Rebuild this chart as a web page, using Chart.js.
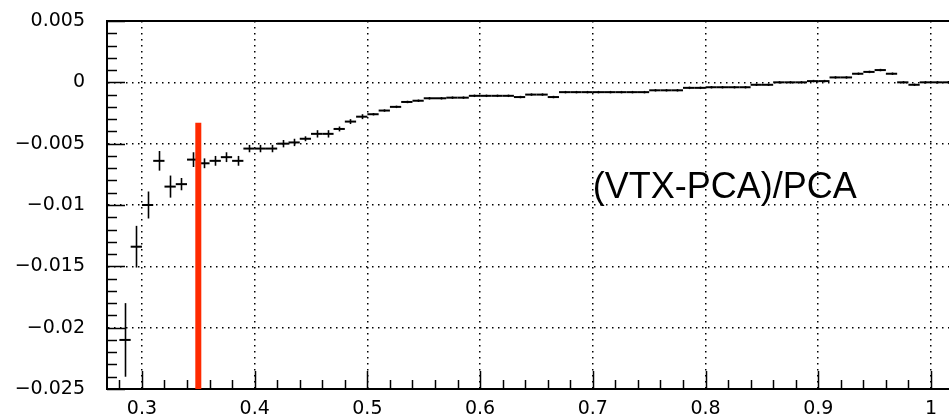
<!DOCTYPE html>
<html>
<head>
<meta charset="utf-8">
<script src="https://cdn.jsdelivr.net/npm/chart.js@4.4.1/dist/chart.umd.min.js"></script>
<style>
  html, body { margin: 0; padding: 0; background: #fff; }
</style>
</head>
<body>
<canvas id="chart" width="949" height="419"></canvas>
<script>
// bin centres (bin width 0.01)
const binCenters = [
  0.285, 0.295, 0.305, 0.315, 0.325, 0.335, 0.345, 0.355, 0.365, 0.375,
  0.385, 0.395, 0.405, 0.415, 0.425, 0.435, 0.445, 0.455, 0.465, 0.475,
  0.485, 0.495, 0.505, 0.515, 0.525, 0.535, 0.545, 0.555, 0.565, 0.575,
  0.585, 0.595, 0.605, 0.615, 0.625, 0.635, 0.645, 0.655, 0.665, 0.675,
  0.685, 0.695, 0.705, 0.715, 0.725, 0.735, 0.745, 0.755, 0.765, 0.775,
  0.785, 0.795, 0.805, 0.815, 0.825, 0.835, 0.845, 0.855, 0.865, 0.875,
  0.885, 0.895, 0.905, 0.915, 0.925, 0.935, 0.945, 0.955, 0.965, 0.975,
  0.985, 0.995, 1.005, 1.015
];
// (VTX-PCA)/PCA per bin
const residual = [
  -0.0210, -0.0134, -0.0100, -0.0064, -0.0085, -0.0083, -0.0063, -0.0066, -0.0064, -0.0061,
  -0.0064, -0.0054, -0.0054, -0.0054, -0.0050, -0.0049, -0.0046, -0.0042, -0.0042, -0.0038,
  -0.0032, -0.0028, -0.0026, -0.0023, -0.0020, -0.0016, -0.0015, -0.0013, -0.0013, -0.00125,
  -0.00125, -0.0011, -0.0011, -0.0011, -0.0011, -0.0012, -0.0010, -0.0010, -0.0012, -0.0008,
  -0.0008, -0.0008, -0.0008, -0.0008, -0.0008, -0.0008, -0.0008, -0.00065, -0.00065, -0.00065,
  -0.00045, -0.00045, -0.0004, -0.0004, -0.0004, -0.0004, -0.0002, -0.0002, 0.0000, 0.0000,
  0.0000, 0.0001, 0.0001, 0.0004, 0.0004, 0.0007, 0.00085, 0.0010, 0.0007, 0.0000,
  -0.0002, 0.0000, 0.0000, 0.0000
];
const residualErr = [
  0.0030, 0.0017, 0.0011, 0.0008, 0.0009, 0.0005, 0.0006, 0.0004, 0.0004, 0.0004,
  0.0004, 0.0003, 0.0003, 0.0003, 0.0003, 0.0003, 0.0002, 0.0003, 0.0003, 0.0002,
  0.0002, 0.0002, 0.0001, 0.0001, 0.0001, 0.0001, 0.0001, 0.0001, 0.0001, 0.0001,
  0.0001, 0.0001, 0.0001, 0.0001, 0.0001, 0.0001, 0.0001, 0.0001, 0.0001, 0.0001,
  0.0001, 0.0001, 0.0001, 0.0001, 0.0001, 0.0001, 0.0001, 0.0001, 0.0001, 0.0001,
  0.0001, 0.0001, 0.0001, 0.0001, 0.0001, 0.0001, 0.0001, 0.0001, 0.0001, 0.0001,
  0.0001, 0.0001, 0.0001, 0.0001, 0.0001, 0.0001, 0.0001, 0.0001, 0.0001, 0.0001,
  0.0001, 0.0001, 0.0001, 0.0001
];
const binHalf = 0.005;

const xLabelValues = [0.3, 0.4, 0.5, 0.6, 0.7, 0.8, 0.9, 1.0];
const xLabelTexts = ['0.3', '0.4', '0.5', '0.6', '0.7', '0.8', '0.9', '1'];
const yLabelValues = [0.005, 0, -0.005, -0.01, -0.015, -0.02, -0.025];
const yLabelTexts = ['0.005', '0', '\u22120.005', '\u22120.01', '\u22120.015', '\u22120.02', '\u22120.025'];

const cutValue = 0.35;       // red line
const cutTop = -0.0033;
const noteText = '(VTX-PCA)/PCA';

const near = (a, b) => Math.abs(a - b) < 1e-9;
const isMajor = (v, list) => list.some(m => near(m, v));

// minor ticks every 0.02 on x, 0.001 on y
const xTickValues = [];
for (let i = 28; i <= 100; i += 2) xTickValues.push(i / 100);
const yTickValues = [];
for (let i = -25; i <= 5; i++) yTickValues.push(i / 1000);

const points = binCenters.map((x, i) => ({ x: x, y: residual[i] }));

const noPad = s => { s.paddingTop = 0; s.paddingBottom = 0; s.paddingLeft = 0; s.paddingRight = 0; };

const histPlugin = {
  id: 'hist',
  afterDatasetsDraw(chart) {
    const { ctx, chartArea: a, scales: { x, y } } = chart;
    ctx.save();
    ctx.beginPath();
    ctx.rect(a.left, a.top, a.right - a.left, a.bottom - a.top);
    ctx.clip();
    ctx.strokeStyle = '#000';
    binCenters.forEach((c, i) => {
      const py = y.getPixelForValue(residual[i]);
      ctx.lineWidth = 2;
      ctx.beginPath();
      ctx.moveTo(x.getPixelForValue(c - binHalf), py);
      ctx.lineTo(x.getPixelForValue(c + binHalf), py);
      ctx.stroke();
      const px = Math.round(x.getPixelForValue(c)) + 0.5;
      ctx.lineWidth = 1.6;
      ctx.beginPath();
      ctx.moveTo(px, y.getPixelForValue(residual[i] - residualErr[i]));
      ctx.lineTo(px, y.getPixelForValue(residual[i] + residualErr[i]));
      ctx.stroke();
    });
    ctx.restore();
  },
  afterDraw(chart) {
    const { ctx, chartArea: a, scales: { x, y } } = chart;
    ctx.save();
    ctx.strokeStyle = '#000';
    // inward tick marks
    ctx.lineWidth = 1.5;
    x.ticks.forEach(t => {
      const px = Math.round(x.getPixelForValue(t.value)) + 0.5;
      const len = isMajor(t.value, xLabelValues) ? 18 : 9;
      ctx.beginPath();
      ctx.moveTo(px, a.bottom);
      ctx.lineTo(px, a.bottom - len);
      ctx.stroke();
    });
    y.ticks.forEach(t => {
      const py = Math.round(y.getPixelForValue(t.value)) + 0.5;
      const len = isMajor(t.value, yLabelValues) ? 18 : 10;
      ctx.beginPath();
      ctx.moveTo(a.left, py);
      ctx.lineTo(a.left + len, py);
      ctx.stroke();
    });
    // frame top
    ctx.lineWidth = 2;
    ctx.beginPath();
    ctx.moveTo(a.left, a.top);
    ctx.lineTo(a.right, a.top);
    ctx.stroke();
    // red cut line
    ctx.strokeStyle = '#ff2a00';
    ctx.lineWidth = 6;
    const cx = x.getPixelForValue(cutValue);
    ctx.beginPath();
    ctx.moveTo(cx, y.getPixelForValue(-0.025));
    ctx.lineTo(cx, y.getPixelForValue(cutTop));
    ctx.stroke();
    // label
    ctx.fillStyle = '#000';
    ctx.font = '36px "Liberation Sans", Arial, sans-serif';
    ctx.textAlign = 'left';
    ctx.textBaseline = 'alphabetic';
    ctx.fillText(noteText, x.getPixelForValue(0.7), y.getPixelForValue(-0.00945));
    ctx.restore();
  }
};

const dotted = (list, skip) => ({
  drawTicks: false,
  lineWidth: 1.5,
  color: c => (c.tick && isMajor(c.tick.value, list) && !skip.some(s => near(s, c.tick.value))) ? '#000' : 'rgba(0,0,0,0)'
});

new Chart(document.getElementById('chart'), {
  type: 'scatter',
  data: {
    datasets: [{
      data: points,
      pointRadius: 0,
      showLine: false
    }]
  },
  options: {
    responsive: false,
    devicePixelRatio: 1,
    animation: false,
    layout: { padding: { top: 21, right: 0, left: 0, bottom: 0 } },
    plugins: { legend: { display: false }, tooltip: { enabled: false } },
    scales: {
      x: {
        type: 'linear',
        min: 0.269,
        max: 1.016,
        afterBuildTicks: s => { s.ticks = xTickValues.map(v => ({ value: v })); },
        afterFit: s => { s.height = 30; noPad(s); },
        grid: dotted(xLabelValues, []),
        border: { display: true, color: '#000', width: 2, dash: [1.5, 4.5] },
        ticks: {
          autoSkip: false,
          maxRotation: 0,
          padding: 9,
          color: '#000',
          font: { family: '"DejaVu Sans", sans-serif', size: 19 },
          callback: v => {
            const k = xLabelValues.findIndex(m => near(m, v));
            return k >= 0 ? xLabelTexts[k] : '';
          }
        }
      },
      y: {
        type: 'linear',
        min: -0.025,
        max: 0.005,
        afterBuildTicks: s => { s.ticks = yTickValues.map(v => ({ value: v })); },
        afterFit: s => { s.width = 107; noPad(s); },
        grid: dotted(yLabelValues, [0.005, -0.025]),
        border: { display: true, color: '#000', width: 2, dash: [1.5, 4.5] },
        ticks: {
          autoSkip: false,
          padding: 22,
          color: '#000',
          font: { family: '"DejaVu Sans", sans-serif', size: 19 },
          callback: v => {
            const k = yLabelValues.findIndex(m => near(m, v));
            return k >= 0 ? yLabelTexts[k] : '';
          }
        }
      }
    }
  },
  plugins: [histPlugin]
});
</script>
</body>
</html>
